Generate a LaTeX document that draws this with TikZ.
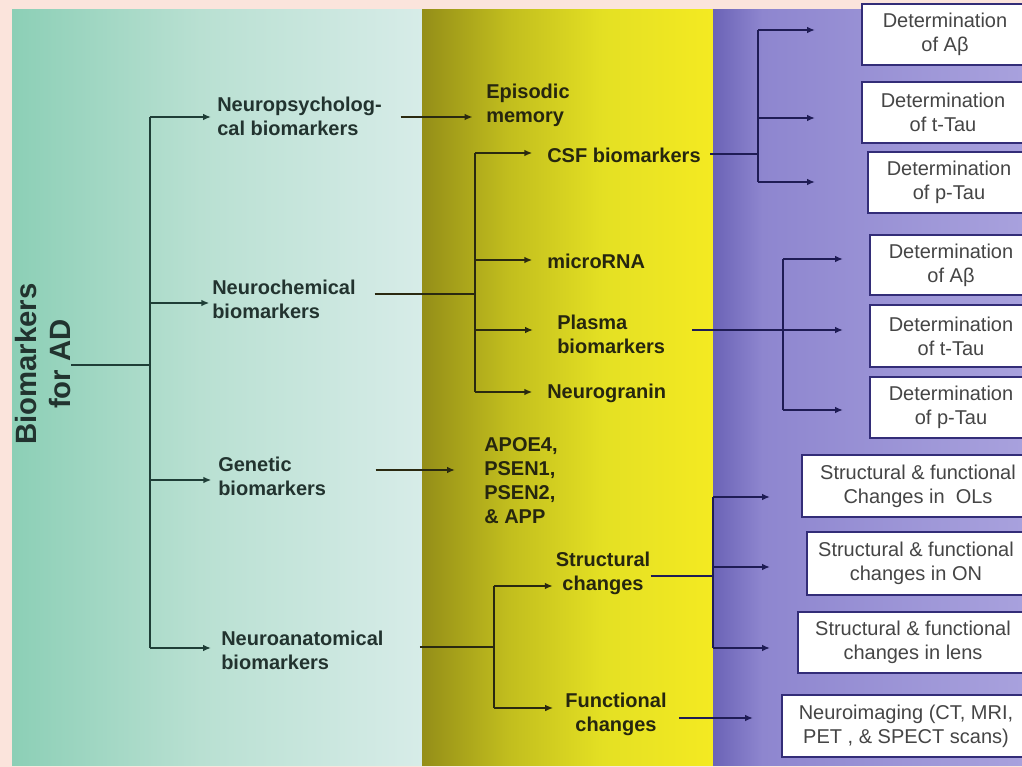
\documentclass[tikz,border=0pt]{standalone}
\usepackage{fontspec}
\setmainfont{Liberation Sans}
\usetikzlibrary{arrows.meta}
\definecolor{pinkbg}{HTML}{FBE4DC}
\definecolor{tealA}{HTML}{8CCFB6}
\definecolor{tealB}{HTML}{B9E0D2}
\definecolor{tealC}{HTML}{D7ECE8}
\definecolor{yelA}{HTML}{948E18}
\definecolor{yelB}{HTML}{C2BE1E}
\definecolor{yelC}{HTML}{E4E023}
\definecolor{yelD}{HTML}{F4EA22}
\definecolor{purA}{HTML}{6B63B6}
\definecolor{purB}{HTML}{8E86CF}
\definecolor{purC}{HTML}{A8A1DD}
\definecolor{ldark}{HTML}{1F3E37}
\definecolor{mdark}{HTML}{2A2910}
\definecolor{rdark}{HTML}{1F1C55}
\definecolor{ltext}{HTML}{22332F}
\definecolor{mtext}{HTML}{26260F}
\definecolor{boxedge}{HTML}{332D78}
\definecolor{boxtext}{HTML}{454545}
\pgfdeclarehorizontalshading{tealsh}{100bp}{color(0bp)=(tealA); color(25bp)=(tealA); color(48bp)=(tealB); color(75bp)=(tealC); color(100bp)=(tealC)}
\pgfdeclarehorizontalshading{yelsh}{100bp}{color(0bp)=(yelA); color(25bp)=(yelA); color(40bp)=(yelB); color(56bp)=(yelC); color(75bp)=(yelD); color(100bp)=(yelD)}
\pgfdeclarehorizontalshading{pursh}{100bp}{color(0bp)=(purA); color(25bp)=(purA); color(33bp)=(purB); color(75bp)=(purC); color(100bp)=(purC)}
\begin{document}
\begin{tikzpicture}[x=0.75pt,y=-0.75pt,
  lbl/.style={font=\bfseries\fontsize{15}{18}\selectfont, text=ltext, inner sep=0pt, align=left, anchor=west},
  mlbl/.style={lbl, text=mtext},
  mlblc/.style={font=\bfseries\fontsize{15}{18}\selectfont, text=mtext, inner sep=0pt, align=center},
  rootlbl/.style={font=\bfseries\fontsize{22}{26}\selectfont, text=ltext, inner sep=0pt, align=center, rotate=90},
  dbox/.style 2 args={draw=boxedge, line width=1.8pt, fill=white, text=boxtext,
     font=\fontsize{15}{18}\selectfont, align=center, inner sep=0pt,
     minimum width=#1*0.75pt, minimum height=#2*0.75pt},
  lline/.style={draw=ldark, line width=2pt},
  larr/.style={lline, -{Latex[length=6pt,width=5pt]}},
  mline/.style={draw=mdark, line width=1.8pt},
  marr/.style={mline, -{Latex[length=6pt,width=5pt]}},
  rline/.style={draw=rdark, line width=1.6pt},
  rarr/.style={rline, -{Latex[length=6pt,width=5pt]}}
]
\useasboundingbox (0,0) rectangle (1022,767);
\clip (0,0) rectangle (1022,767);
\fill[pinkbg] (0,0) rectangle (1022,767);
\shade[shading=tealsh] (12,10) rectangle (422,765);
\shade[shading=yelsh] (422,10) rectangle (713,765);
\shade[shading=pursh] (713,10) rectangle (1022,765);

% boxes
\node[dbox={166}{61}] (b1) at (945,34.5) {Determination\\of Aβ};
\node[dbox={162}{61}] (b2) at (943,112.5) {Determination\\of t-Tau};
\node[dbox={162}{61}] (b3) at (949,182.5) {Determination\\of p-Tau};
\node[dbox={162}{60}] (b4) at (951,265) {Determination\\of Aβ};
\node[dbox={162}{62}] (b5) at (951,336) {Determination\\of t-Tau};
\node[dbox={162}{61}] (b6) at (951,407.5) {Determination\\of p-Tau};
\node[dbox={232}{62}] (b7) at (918,486) {Structural \& functional\\Changes in\ \ OLs};
\node[dbox={218}{63}] (b8) at (916,563.5) {Structural \& functional\\changes in ON};
\node[dbox={230}{61}] (b9) at (913,642.5) {Structural \& functional\\changes in lens};
\node[dbox={248}{62}] (b10) at (906,726) {Neuroimaging (CT, MRI,\\PET , \& SPECT scans)};

% root and first level
\node[rootlbl] (root) at (43,364) {Biomarkers\\for AD};
\node[lbl] (np) at (217,116) {Neuropsycholog-\\cal biomarkers};
\node[lbl] (nc) at (212,299) {Neurochemical\\biomarkers};
\node[lbl] (gen) at (218,476) {Genetic\\biomarkers};
\node[lbl] (na) at (221,650) {Neuroanatomical\\biomarkers};

% second level
\node[mlbl] (ep) at (486,105) {Episodic\\memory};
\node[mlbl] (csf) at (547,155) {CSF biomarkers};
\node[mlbl] (mir) at (547,261) {microRNA};
\node[mlbl] (pl) at (557,334) {Plasma\\biomarkers};
\node[mlbl] (ng) at (547,393) {Neurogranin};
\node[mlbl] (apoe) at (484,481) {APOE4,\\PSEN1,\\PSEN2,\\\& APP};
\node[mlblc] (sc) at (603,573) {Structural\\changes};
\node[mlblc] (fc) at (616,714) {Functional\\changes};

% junction coordinates
\coordinate (j0) at (150,365);
\coordinate (t1) at (150,117);
\coordinate (t2) at (150,303);
\coordinate (t3) at (150,480);
\coordinate (t4) at (150,648);

\coordinate (jnc) at (475,294);
\coordinate (m1) at (475,153);
\coordinate (m2) at (475,260);
\coordinate (m3) at (475,330);
\coordinate (m4) at (475,392);
\coordinate (ge) at (455,470);
\coordinate (jna) at (494,647);
\coordinate (s1) at (494,586);
\coordinate (s2) at (494,708);

\coordinate (jcsf) at (758,154);
\coordinate (r1) at (758,30);
\coordinate (r2) at (758,118);
\coordinate (r3) at (758,182);
\coordinate (ae1) at (815,30);
\coordinate (ae2) at (815,118);
\coordinate (ae3) at (815,182);

\coordinate (jpl) at (783,330);
\coordinate (p1) at (783,259);
\coordinate (p3) at (783,410);
\coordinate (pe1) at (843,259);
\coordinate (pe2) at (843,330);
\coordinate (pe3) at (843,410);

\coordinate (jsc) at (713,576);
\coordinate (q1) at (713,497);
\coordinate (q2) at (713,567);
\coordinate (q3) at (713,648);
\coordinate (qe1) at (770,497);
\coordinate (qe2) at (770,567);
\coordinate (qe3) at (770,648);
\coordinate (fe) at (753,718);

% left trunk
\draw[lline] (root.south |- j0) -- (j0);
\draw[lline] (t1) -- (t4);
\draw[larr, shorten >=4.5pt] (t1) -- (t1 -| np.west);
\draw[larr, shorten >=2pt] (t2) -- (t2 -| nc.west);
\draw[larr, shorten >=5pt] (t3) -- (t3 -| gen.west);
\draw[larr, shorten >=7.5pt] (t4) -- (t4 -| na.west);

% middle
\draw[marr, shorten <=14pt, shorten >=10pt] (np.east |- t1) -- (ep.west |- t1);
\draw[mline, shorten <=14pt] (nc.east |- jnc) -- (jnc);
\draw[mline] (m1) -- (m4);
\draw[marr, shorten >=11pt] (m1) -- (m1 -| csf.west);
\draw[marr, shorten >=11pt] (m2) -- (m2 -| mir.west);
\draw[marr, shorten >=18pt] (m3) -- (m3 -| pl.west);
\draw[marr, shorten >=11pt] (m4) -- (m4 -| ng.west);
\draw[marr, shorten <=37pt] (gen.east |- ge) -- (ge);
\draw[mline, shorten <=27pt] (na.east |- jna) -- (jna);
\draw[mline] (s1) -- (s2);
\draw[marr, shorten >=2pt] (s1) -- (s1 -| sc.west);
\draw[marr, shorten >=9pt] (s2) -- (s2 -| fc.west);

% right
\draw[rline, shorten <=7pt] (csf.east |- jcsf) -- (jcsf);
\draw[rline] (r1) -- (r3);
\draw[rarr] (r1) -- (ae1);
\draw[rarr] (r2) -- (ae2);
\draw[rarr] (r3) -- (ae3);

\draw[rline, shorten <=20pt] (pl.east |- jpl) -- (jpl);
\draw[rline] (p1) -- (p3);
\draw[rarr] (p1) -- (pe1);
\draw[rarr] (jpl) -- (pe2);
\draw[rarr] (p3) -- (pe3);

\draw[rline] (sc.east |- jsc) -- (jsc);
\draw[rline] (q1) -- (q3);
\draw[rarr] (q1) -- (qe1);
\draw[rarr] (q2) -- (qe2);
\draw[rarr] (q3) -- (qe3);

\draw[rarr, shorten <=9pt] (fc.east |- fe) -- (fe);
\end{tikzpicture}
\end{document}
